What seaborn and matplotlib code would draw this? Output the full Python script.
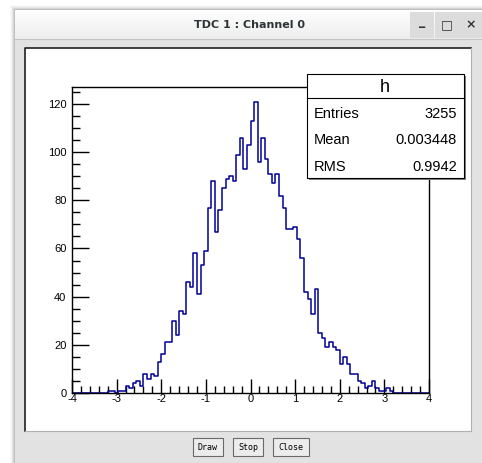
import numpy as np
import pandas as pd
import matplotlib
matplotlib.use('Agg')
import matplotlib.pyplot as plt
from matplotlib.patches import Rectangle
from matplotlib.ticker import MultipleLocator
import seaborn as sns

# histogram h : 100 bins on [-4, 4], counts
bin_edges = np.linspace(-4, 4, 101)
counts = np.zeros(100)
counts[10:90] = [
    1, 1, 0, 1, 1, 3, 2, 4, 5, 3,            # -3.20 .. -2.48
    8, 6, 8, 7, 13, 16, 21, 21, 30, 24,      # -2.40 .. -1.68
    34, 33, 46, 44, 58, 41, 53, 59, 77, 88,  # -1.60 .. -0.88
    67, 76, 85, 89, 90, 88, 99, 106, 93, 103,  # -0.80 .. -0.08
    113, 121, 96, 106, 97, 91, 87, 91, 82, 77,  # 0.00 .. 0.72
    68, 68, 69, 64, 56, 42, 39, 33, 43, 25,  # 0.80 .. 1.52
    23, 19, 21, 19, 18, 12, 15, 12, 8, 8,    # 1.60 .. 2.32
    5, 4, 2, 3, 5, 2, 1, 1, 2, 1,            # 2.40 .. 3.12
]
stat_names = ['Entries', 'Mean', 'RMS']
stat_values = ['3255', '0.003448', '0.9942']
window_title = 'TDC 1 : Channel 0'
button_labels = ['Draw', 'Stop', 'Close']

df = pd.DataFrame({'x': (bin_edges[:-1] + bin_edges[1:]) / 2, 'n': counts})

plt.rcParams['font.family'] = ['Liberation Sans', 'DejaVu Sans']
plt.rcParams['axes.unicode_minus'] = False

W, H = 482, 463
fig = plt.figure(figsize=(W / 100, H / 100), dpi=100, facecolor='white')

# window chrome, drawn in pixel coordinates
bg = fig.add_axes([0, 0, 1, 1], zorder=0)
bg.set_xlim(0, W)
bg.set_ylim(H, 0)
bg.axis('off')
for k, a in enumerate([0.02, 0.03, 0.05, 0.07, 0.09]):          # soft shadow
    bg.add_patch(Rectangle((10 + k, 5 + k), W, H, color='black', alpha=a, lw=0))
bg.add_patch(Rectangle((15, 10), W, H, color='#e2e2e2', lw=0))        # frame
for k, c in enumerate(np.linspace(0.995, 0.93, 29)):                  # title bar
    bg.add_patch(Rectangle((15, 10 + k), W, 1.05, color=(c, c, c), lw=0))
bg.plot([15, W], [39, 39], color='#c4c4c4', lw=0.8)
bg.text(250, 25, window_title, ha='center', va='center', fontsize=8,
        fontweight='bold', color='#2e3436', family=['DejaVu Sans'])
for x0 in [410, 435, 459]:
    bg.add_patch(Rectangle((x0, 12), 24, 26, color='#dcdcdc', lw=0))
for x0, sym, dy in zip([422, 447, 471], ['_', '\u25a1', '\u00d7'], [-3, 0, 0]):
    bg.text(x0, 25 + dy, sym, ha='center', va='center', fontsize=9,
            fontweight='bold', color='#2e3436', family=['DejaVu Sans'])
# canvas, sunken border
bg.add_patch(Rectangle((25, 48), 446, 383, facecolor='white', edgecolor='none'))
bg.plot([25, 25, 471], [431, 48, 48], color='#202020', lw=1.2)
bg.plot([25, 471, 471], [431, 431, 48], color='#b0b0b0', lw=0.8)
for (x0, w), lab in zip([(193, 30), (233, 30), (273, 36)], button_labels):
    bg.add_patch(Rectangle((x0, 438), w, 18, facecolor='#ececec',
                           edgecolor='#6a6a6a', lw=0.8))
    bg.text(x0 + w / 2, 447.5, lab, ha='center', va='center', fontsize=6,
            color='black', family=['DejaVu Sans Mono'])

# histogram frame
ax = fig.add_axes([72 / W, 1 - 393 / H, (429 - 72) / W, (393 - 87) / H], zorder=1)
sns.histplot(data=df, x='x', weights='n', binwidth=0.08, binrange=(-4, 4),
             element='step', fill=False, color='#000099', linewidth=1.1, ax=ax)
ax.set_xlim(-4, 4)
ax.set_ylim(0, counts.max() * 1.05)
ax.set_xlabel('')
ax.set_ylabel('')
ax.set_facecolor('white')
for s in ax.spines.values():
    s.set_color('black')
    s.set_linewidth(1.0)
ax.xaxis.set_major_locator(MultipleLocator(1))
ax.xaxis.set_minor_locator(MultipleLocator(0.2))
ax.yaxis.set_major_locator(MultipleLocator(20))
ax.yaxis.set_minor_locator(MultipleLocator(5))
ax.tick_params(axis='x', which='major', direction='in', length=10, width=1,
               labelsize=8, pad=1)
ax.tick_params(axis='x', which='minor', direction='in', length=5, width=1)
ax.tick_params(axis='y', which='major', direction='in', length=12, width=1,
               labelsize=8, pad=4)
ax.tick_params(axis='y', which='minor', direction='in', length=6, width=1)
ax.set_xticks(np.arange(-4, 5, 1))
ax.set_xticklabels([str(v) for v in range(-4, 5)])

# stats box
ov = fig.add_axes([0, 0, 1, 1], zorder=3)
ov.set_xlim(0, W)
ov.set_ylim(H, 0)
ov.axis('off')
ov.add_patch(Rectangle((309, 76), 157, 104, facecolor='#808080', lw=0))
ov.add_patch(Rectangle((307, 74), 157, 104, facecolor='white',
                       edgecolor='black', lw=0.8))
ov.plot([307, 464], [98, 98], color='black', lw=0.8)
ov.text(385, 87, 'h', ha='center', va='center', fontsize=13)
for i, (nm, val) in enumerate(zip(stat_names, stat_values)):
    yy = 114 + i * 26.5
    ov.text(314, yy, nm, ha='left', va='center', fontsize=10.5)
    ov.text(457, yy, val, ha='right', va='center', fontsize=10.5)

fig.savefig('out.png', dpi=100)
